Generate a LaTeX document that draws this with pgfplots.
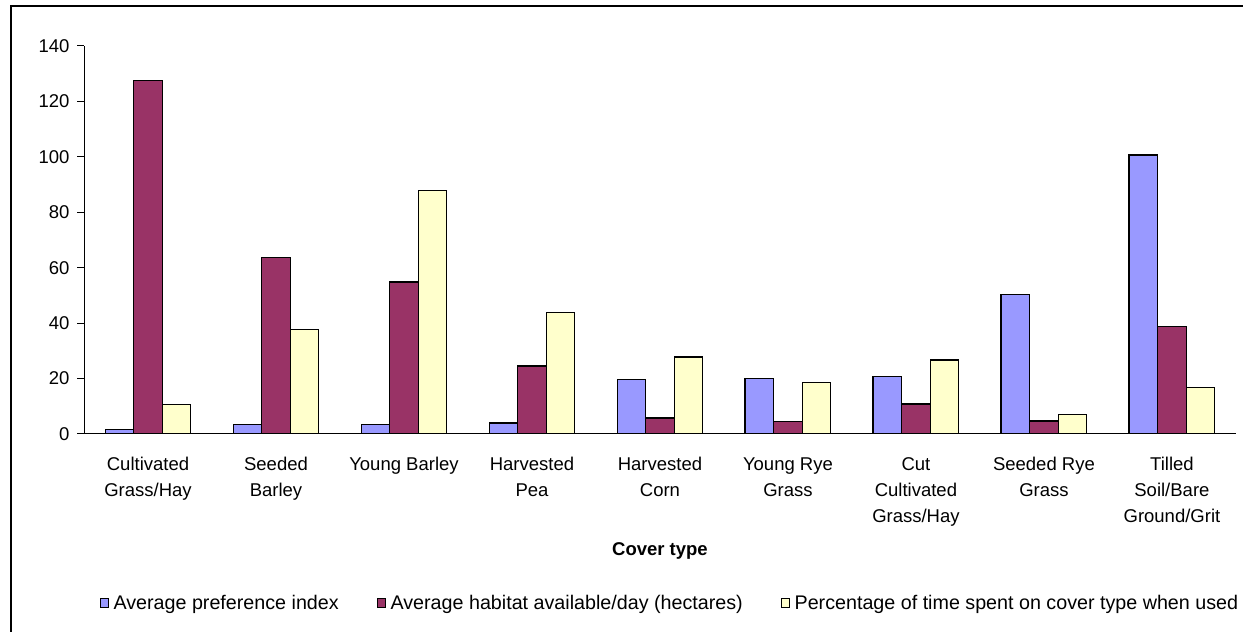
\documentclass[border=0pt]{standalone}
\usepackage{fontspec}
\setmainfont{Liberation Sans}
\usepackage{pgfplots}
\pgfplotsset{compat=1.18}
\definecolor{cblue}{HTML}{9999FF}
\definecolor{cmaroon}{HTML}{993366}
\definecolor{cyellow}{HTML}{FFFFCC}
\begin{document}
\begin{tikzpicture}
\path[use as bounding box] (0,0) rectangle (1243pt,632pt);
\draw[line width=2pt] (10.5pt,-10pt) rectangle (1252pt,626pt);
\begin{axis}[
  at={(84pt,198pt)}, anchor=south west,
  scale only axis, width=1152pt, height=388pt,
  xmin=-0.5, xmax=8.5, ymin=0, ymax=140,
  axis lines=left, axis line style={-, line width=1pt},
  ybar=0pt, bar width=0.223,
  xtick={0,...,8},
  xticklabels={{Cultivated\\Grass/Hay},{Seeded\\Barley},{Young Barley},{Harvested\\Pea},{Harvested\\Corn},{Young Rye\\Grass},{Cut\\Cultivated\\Grass/Hay},{Seeded Rye\\Grass},{Tilled\\Soil/Bare\\Ground/Grit}},
  x tick label style={align=center, font=\fontsize{18.5}{26}\selectfont, yshift=-13pt},
  major x tick style={draw=none},
  extra x ticks={-0.5,0.5,...,8.5},
  extra x tick labels={},
  extra x tick style={major tick length=7pt, tick style={black, line width=1pt}},
  ytick={0,20,...,140},
  y tick label style={font=\fontsize{18.5}{22}\selectfont, xshift=-4pt},
  /pgf/number format/assume math mode=true,
  tick align=outside, major tick length=7pt,
  tick style={black, line width=1pt},
  xlabel={\textbf{Cover type}},
  xlabel style={at={(rel axis cs:0.5,0)}, anchor=center, yshift=-117pt, font=\fontsize{18.5}{22}\selectfont},
  legend columns=3,
  legend style={at={(rel axis cs:0.5,0)}, anchor=center, yshift=-169pt, xshift=10pt, draw=none, fill=none,
    font=\fontsize{19.7}{22}\selectfont,
    /tikz/every even column/.append style={column sep=36pt},
    /tikz/every odd column/.append style={column sep=3pt}},
  legend image code/.code={\draw[#1, line width=0.8pt] (0pt,-4.5pt) rectangle (8pt,4.5pt);},
]
\addplot[fill=cblue, draw=black, line width=1.3pt] coordinates {(0,1.5) (1,3.5) (2,3.5) (3,4.0) (4,19.6) (5,20.1) (6,20.8) (7,50.4) (8,100.7)};
\addplot[fill=cmaroon, draw=black, line width=1.3pt] coordinates {(0,127.6) (1,63.7) (2,54.8) (3,24.5) (4,5.8) (5,4.6) (6,10.8) (7,4.7) (8,38.8)};
\addplot[fill=cyellow, draw=black, line width=1.3pt] coordinates {(0,10.7) (1,37.7) (2,87.9) (3,43.8) (4,27.8) (5,18.5) (6,26.7) (7,7.0) (8,16.8)};
\legend{Average preference index, Average habitat available/day (hectares), Percentage of time spent on cover type when used}
\end{axis}
\end{tikzpicture}
\end{document}
